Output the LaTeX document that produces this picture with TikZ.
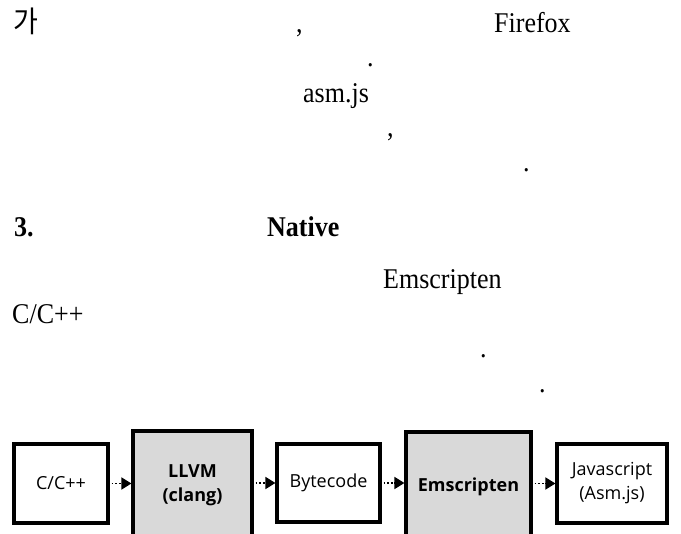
\documentclass[tikz,border=0pt]{standalone}
\usepackage{fontspec}
\setmainfont{Liberation Serif}
\newfontfamily\krfont{Noto Sans CJK KR}
\newfontfamily\boxfont{Open Sans}
\usetikzlibrary{arrows.meta}
\begin{document}
\begin{tikzpicture}[x=1pt,y=1pt,
  txt/.style={anchor=base west, inner sep=0pt, font=\fontsize{26}{26}\selectfont, yscale=1.1, transform shape},
  btxt/.style={txt, font=\fontsize{26}{26}\selectfont\bfseries},
  stagebox/.style={draw=black, line width=3.2pt, fill=white, inner sep=0pt, align=center,
    font=\boxfont\fontsize{18}{24}\selectfont},
  graybox/.style={stagebox, fill=black!15, font=\boxfont\bfseries\fontsize{18}{24}\selectfont},
  flow/.style={line width=1.8pt, dash pattern=on 1.8pt off 1.8pt, -{Triangle[length=10pt,width=12pt]}, shorten <=2pt}
]
\clip (0,0) rectangle (681,-534);
\fill[white] (0,0) rectangle (681,-534);

% body text fragments
\node[txt, font=\krfont\fontsize{27}{27}\selectfont] (t1) at (13,-33) {가};
\node[txt] (t2) at (296,-33) {,};
\node[txt] (t3) at (494,-33) {Firefox};
\node[txt] (t4) at (367,-67) {.};
\node[txt] (t5) at (303,-103) {asm.js};
\node[txt] (t6) at (387,-137) {,};
\node[txt] (t7) at (523,-172) {.};
\node[btxt] (t8) at (14,-237) {3.};
\node[btxt] (t9) at (267,-237) {Native};
\node[txt] (t10) at (383,-289) {Emscripten};
\node[txt] (t11) at (12,-324) {C/C++};
\node[txt] (t12) at (480,-358) {.};
\node[txt] (t13) at (539,-393) {.};

% pipeline
\node[stagebox, minimum width=94pt, minimum height=79pt] (cpp) at (61,-483.5) {C/C++};
\node[graybox, minimum width=119pt, minimum height=108pt] (llvm) at (192.5,-485) {LLVM\\(clang)};
\node[stagebox, minimum width=103pt, minimum height=78pt] (byte) at (328.5,-483) {Bytecode};
\node[graybox, minimum width=125pt, minimum height=110pt] (emsc) at (468.5,-487) {Emscripten};
\node[stagebox, minimum width=110pt, minimum height=79pt] (js) at (612,-483.5) {Javascript\\(Asm.js)};

\draw[flow] (cpp.east) -- (cpp.east -| llvm.west);
\draw[flow] (llvm.east |- byte.west) -- (byte.west);
\draw[flow] (byte.east) -- (byte.east -| emsc.west);
\draw[flow] (emsc.east |- js.west) -- (js.west);
\end{tikzpicture}
\end{document}
